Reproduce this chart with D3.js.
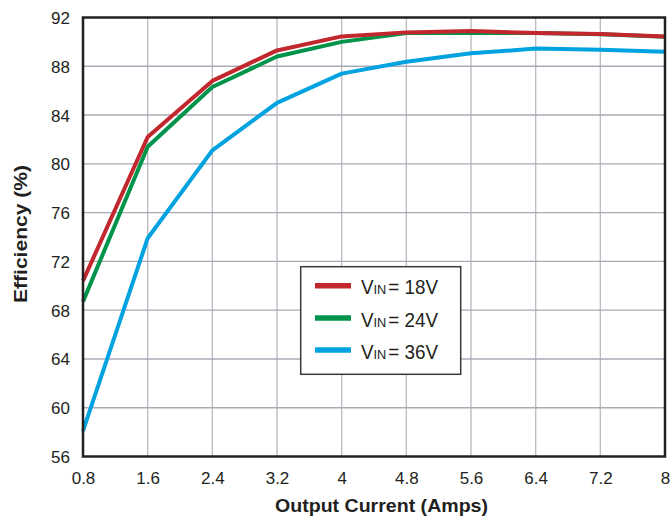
<!DOCTYPE html>
<html>
<head>
<meta charset="utf-8">
<script src="https://cdn.jsdelivr.net/npm/d3@7"></script>
<style>
  html, body { margin: 0; padding: 0; background: #fff; }
  svg { display: block; }
  text { font-family: "Liberation Sans", Arial, Helvetica, sans-serif; fill: #231f20; }
</style>
</head>
<body>
<svg id="chart" width="670" height="516"></svg>
<script>
// ---- data ----
const currents = [0.8, 1.6, 2.4, 3.2, 4.0, 4.8, 5.6, 6.4, 7.2, 8.0];
const eff18 = [70.4, 82.2, 86.8, 89.3, 90.45, 90.78, 90.9, 90.72, 90.65, 90.45];
const eff24 = [68.7, 81.4, 86.3, 88.8, 90.0, 90.72, 90.72, 90.72, 90.62, 90.42];
const eff36 = [58.1, 73.9, 81.1, 85.0, 87.4, 88.37, 89.06, 89.45, 89.35, 89.2];
const xTicks = [0.8, 1.6, 2.4, 3.2, 4, 4.8, 5.6, 6.4, 7.2, 8];
const xTickLabels = ["0.8", "1.6", "2.4", "3.2", "4", "4.8", "5.6", "6.4", "7.2", "8"];
const yTicks = [56, 60, 64, 68, 72, 76, 80, 84, 88, 92];
const seriesNames = ["18V", "24V", "36V"];
const seriesColors = ["#c1272d", "#00934a", "#00a3e0"];

const series = [eff18, eff24, eff36].map((vals, i) => ({
  name: seriesNames[i], color: seriesColors[i],
  points: vals.map((v, j) => ({ x: currents[j], y: v }))
}));

// ---- layout ----
const L = 83, R = 665, T = 17.5, B = 456.5;
const svg = d3.select("#chart");
const x = d3.scaleLinear().domain([0.8, 8]).range([L, R]);
const y = d3.scaleLinear().domain([56, 92]).range([B, T]);

// grid
const grid = svg.append("g");
grid.selectAll("line.v").data(xTicks.slice(1, -1)).join("line")
  .attr("x1", d => x(d)).attr("x2", d => x(d)).attr("y1", T).attr("y2", B)
  .attr("stroke", "#bdbdc2").attr("stroke-width", 1.4);
grid.selectAll("line.h").data(yTicks.slice(1, -1)).join("line")
  .attr("y1", d => y(d)).attr("y2", d => y(d)).attr("x1", L).attr("x2", R)
  .attr("stroke", "#a9aab5").attr("stroke-width", 1.4);

// lines
const line = d3.line().x(d => x(d.x)).y(d => y(d.y));
svg.append("g").selectAll("path").data(series.slice().reverse()).join("path")
  .attr("d", d => line(d.points))
  .attr("fill", "none").attr("stroke", d => d.color)
  .attr("stroke-width", 4).attr("stroke-linejoin", "round");

// frame
svg.append("rect").attr("x", L).attr("y", T).attr("width", R - L).attr("height", B - T)
  .attr("fill", "none").attr("stroke", "#231f20").attr("stroke-width", 2.5);

// axes (labels only)
const xAxis = d3.axisBottom(x).tickValues(xTicks).tickSize(0).tickPadding(0)
  .tickFormat((d, i) => xTickLabels[i]);
const gx = svg.append("g").attr("transform", `translate(0,${B})`).call(xAxis);
gx.select(".domain").remove();
gx.selectAll("text").attr("dy", null).attr("y", 27.5).attr("font-size", 17)
  .style("font-family", "'Liberation Sans', Arial, sans-serif").attr("fill", "#231f20");

const yAxis = d3.axisLeft(y).tickValues(yTicks).tickSize(0).tickPadding(0);
const gy = svg.append("g").attr("transform", `translate(${L},0)`).call(yAxis);
gy.select(".domain").remove();
gy.selectAll("text").attr("x", -13).attr("dy", "0.35em").attr("font-size", 17)
  .style("font-family", "'Liberation Sans', Arial, sans-serif").attr("fill", "#231f20");

// axis titles
svg.append("text").attr("x", 381.5).attr("y", 512).attr("text-anchor", "middle")
  .attr("font-size", 18).attr("font-weight", "bold")
  .attr("textLength", 213).attr("lengthAdjust", "spacingAndGlyphs")
  .text("Output Current (Amps)");
svg.append("text").attr("transform", "translate(26.5,234) rotate(-90)")
  .attr("text-anchor", "middle").attr("font-size", 18).attr("font-weight", "bold")
  .attr("textLength", 138).attr("lengthAdjust", "spacingAndGlyphs")
  .text("Efficiency (%)");

// legend
const lg = svg.append("g");
lg.append("rect").attr("x", 300.7).attr("y", 266.7).attr("width", 160).attr("height", 107.6)
  .attr("fill", "#fff").attr("stroke", "#3a3a3a").attr("stroke-width", 1.5);
const rows = lg.selectAll("g.row").data(series).join("g")
  .attr("transform", (d, i) => `translate(0,${285.7 + i * 32.2})`);
rows.append("line").attr("x1", 315).attr("x2", 351).attr("y1", 0).attr("y2", 0)
  .attr("stroke", d => d.color).attr("stroke-width", 5.5);
const t = rows.append("text").attr("x", 361).attr("y", 8.7).attr("font-size", 20)
  .attr("textLength", 77).attr("lengthAdjust", "spacingAndGlyphs");
t.append("tspan").text("V");
t.append("tspan").attr("font-size", 13.5).text("IN");
t.append("tspan").attr("dx", 2).text(d => "= " + d.name);
</script>
</body>
</html>
